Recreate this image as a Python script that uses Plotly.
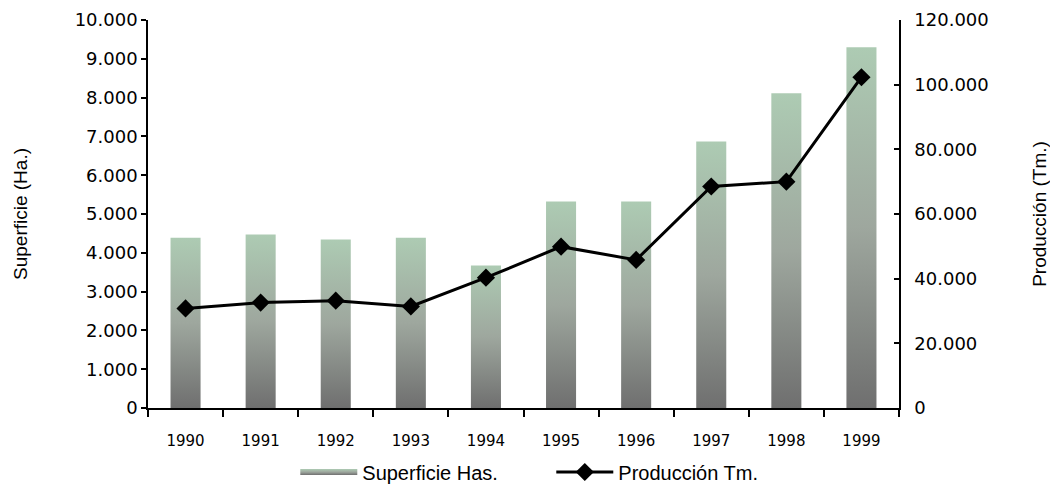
import plotly.graph_objects as go

years = ["1990", "1991", "1992", "1993", "1994", "1995", "1996", "1997", "1998", "1999"]
superficie = [4390, 4470, 4340, 4390, 3670, 5320, 5320, 6870, 8110, 9300]
produccion = [30800, 32600, 33200, 31400, 40300, 49900, 45800, 68500, 70000, 102300]

FONT = "Liberation Sans, Arial, sans-serif"
NUMFONT = "DejaVu Sans, Verdana, sans-serif"
bar_half = 0.2
grad = [[0.0, "#6f6f6f"], [0.5, "#9ea79e"], [1.0, "#adcbb3"]]

fig = go.Figure()
for i, v in enumerate(superficie):
    fig.add_trace(go.Scatter(
        x=[i - bar_half, i + bar_half, i + bar_half, i - bar_half, i - bar_half],
        y=[0, 0, v, v, 0],
        mode="none", fill="toself",
        fillgradient=dict(type="vertical", colorscale=grad),
        name="Superficie Has.", legendgroup="sup",
        showlegend=(i == 0), hoverinfo="skip",
    ))

fig.add_trace(go.Scatter(
    x=list(range(len(years))), y=produccion, yaxis="y2",
    mode="lines+markers", name="Producción Tm.",
    line=dict(color="black", width=3),
    marker=dict(symbol="diamond", size=14, color="black"),
))

fig.update_layout(
    width=1058, height=485,
    margin=dict(l=140, r=167, t=12, b=85, autoexpand=False),
    paper_bgcolor="white", plot_bgcolor="white",
    separators=",.",
    font=dict(family=FONT, size=17, color="black"),
    xaxis=dict(
        range=[-0.5, 9.5], tickvals=list(range(len(years))), ticktext=years,
        showgrid=False, zeroline=False, showline=True, linecolor="black", linewidth=1.5,
        ticks="outside", ticklen=0, tickcolor="rgba(0,0,0,0)",
        tickfont=dict(size=15, family=NUMFONT), ticklabelstandoff=18,
        minor=dict(tick0=-0.5, dtick=1, ticks="outside", ticklen=7, tickcolor="black", tickwidth=1.5),
        automargin=False, fixedrange=True,
    ),
    yaxis=dict(
        range=[0, 10000], dtick=1000, tickformat=",d",
        showgrid=False, zeroline=False, showline=True, linecolor="black", linewidth=1.5,
        ticks="outside", ticklen=5, tickwidth=1.5, tickcolor="black",
        tickfont=dict(size=18, family=NUMFONT), ticklabelstandoff=0,
        title=dict(text="Superficie (Ha.)", font=dict(size=19), standoff=42),
        automargin=False,
    ),
    yaxis2=dict(
        range=[0, 120000], dtick=20000, tickformat=",d",
        overlaying="y", side="right",
        showgrid=False, zeroline=False, showline=True, linecolor="black", linewidth=1.5,
        ticks="inside", ticklen=5, tickwidth=1.5, tickcolor="black",
        tickfont=dict(size=18, family=NUMFONT), ticklabelstandoff=10,
        title=dict(text="Producción (Tm.)", font=dict(size=19), standoff=45),
        automargin=False,
    ),
    legend=dict(
        orientation="h", x=0.537, xanchor="center", y=-0.165, yanchor="middle",
        font=dict(size=20), itemwidth=57, entrywidth=184, entrywidthmode="pixels",
        bgcolor="rgba(0,0,0,0)",
    ),
    showlegend=True,
)

fig.write_html("out.html")
